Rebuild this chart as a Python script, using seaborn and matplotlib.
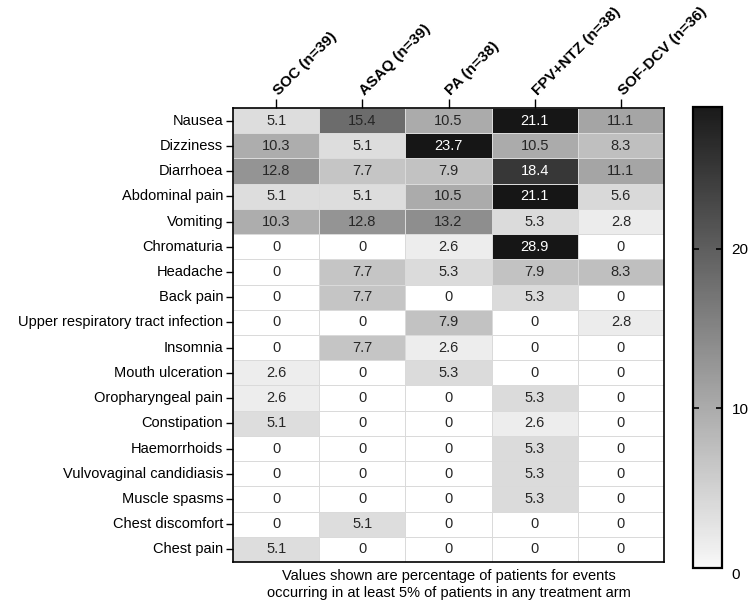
import numpy as np
import pandas as pd
import matplotlib
matplotlib.use("Agg")
import matplotlib.pyplot as plt
import seaborn as sns
from matplotlib.colors import LinearSegmentedColormap, Normalize
from matplotlib.cm import ScalarMappable

events = ["Nausea", "Dizziness", "Diarrhoea", "Abdominal pain", "Vomiting",
          "Chromaturia", "Headache", "Back pain", "Upper respiratory tract infection",
          "Insomnia", "Mouth ulceration", "Oropharyngeal pain", "Constipation",
          "Haemorrhoids", "Vulvovaginal candidiasis", "Muscle spasms",
          "Chest discomfort", "Chest pain"]
arms = ["SOC (n=39)", "ASAQ (n=39)", "PA (n=38)", "FPV+NTZ (n=38)", "SOF-DCV (n=36)"]

soc = [5.1, 10.3, 12.8, 5.1, 10.3, 0, 0, 0, 0, 0, 2.6, 2.6, 5.1, 0, 0, 0, 0, 5.1]
asaq = [15.4, 5.1, 7.7, 5.1, 12.8, 0, 7.7, 7.7, 0, 7.7, 0, 0, 0, 0, 0, 0, 5.1, 0]
pa = [10.5, 23.7, 7.9, 10.5, 13.2, 2.6, 5.3, 0, 7.9, 2.6, 5.3, 0, 0, 0, 0, 0, 0, 0]
fpv = [21.1, 10.5, 18.4, 21.1, 5.3, 28.9, 7.9, 5.3, 0, 0, 0, 5.3, 2.6, 5.3, 5.3, 5.3, 0, 0]
sof = [11.1, 8.3, 11.1, 5.6, 2.8, 0, 8.3, 0, 2.8, 0, 0, 0, 0, 0, 0, 0, 0, 0]

cbar_ticks = [0, 10, 20]

df = pd.DataFrame({arms[0]: soc, arms[1]: asaq, arms[2]: pa, arms[3]: fpv, arms[4]: sof},
                  index=events)

plt.rcParams['font.family'] = ['Liberation Sans', 'DejaVu Sans']

# nonlinear grey map for cells
VMAX = 30.0
nodes = [(0, 255), (2.6, 237), (5.1, 221), (7.7, 196), (10.4, 172), (12.8, 148),
         (15.4, 108), (18.4, 56), (21.1, 22), (30, 22)]
cmap_cells = LinearSegmentedColormap.from_list(
    "cells", [(v / VMAX, (g / 255, g / 255, g / 255)) for v, g in nodes])

fig = plt.figure(figsize=(7.5, 6.12), dpi=100)
ax = fig.add_axes([0.3107, 0.0817, 0.5747, 0.7418])
cax = fig.add_axes([0.924, 0.0719, 0.0387, 0.7533])

annot = df.map(lambda v: "0" if v == 0 else f"{v:.1f}")
sns.heatmap(df, ax=ax, cmap=cmap_cells, vmin=0, vmax=VMAX, cbar=False,
            annot=annot, fmt="", linewidths=0.6, linecolor="#dadada",
            annot_kws={"fontsize": 10.5})
for t in ax.texts:
    val = float(t.get_text())
    t.set_color("white" if val >= 18 else "#262626")

ax.xaxis.tick_top()
ax.set_xticklabels(arms, rotation=45, ha="left", va="center", rotation_mode="anchor",
                   fontsize=11, fontweight="bold")
ax.set_yticklabels(events, rotation=0, fontsize=10.5)
ax.tick_params(axis="x", length=6.5, width=1, pad=4, colors="black")
ax.tick_params(axis="y", length=5, width=1, pad=2, colors="black")
ax.set_xlabel("")
ax.set_ylabel("")
for s in ax.spines.values():
    s.set_visible(True)
    s.set_color("black")
    s.set_linewidth(1.2)

ax.text(0.5, -0.015,
        "Values shown are percentage of patients for events\n"
        "occurring in at least 5% of patients in any treatment arm",
        transform=ax.transAxes, ha="center", va="top", fontsize=10.5,
        linespacing=1.25)

# colour bar
cmap_bar = LinearSegmentedColormap.from_list("bar", ["#f8f8f8", "#1a1a1a"])
sm = ScalarMappable(norm=Normalize(vmin=0, vmax=max(fpv)), cmap=cmap_bar)
cb = fig.colorbar(sm, cax=cax, ticks=cbar_ticks)
cb.outline.set_linewidth(1.6)
cb.outline.set_edgecolor("black")
cax.tick_params(axis="y", which="both", left=True, right=True, direction="in",
                length=4, width=1.2, labelsize=11, pad=7)
t0 = cb.ax.yaxis.get_major_ticks()[0]
t0.tick1line.set_visible(False)
t0.tick2line.set_visible(False)
cb.ax.get_yticklabels()[0].set_va("top")

fig.savefig("out.png", dpi=100)
